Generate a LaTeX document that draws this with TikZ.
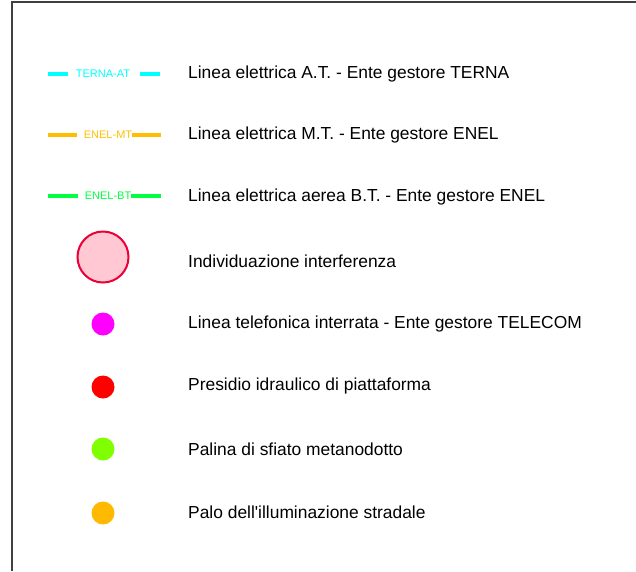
\documentclass[tikz,border=0pt]{standalone}
\usepackage{fontspec}
\setmainfont{Liberation Sans}
\usetikzlibrary{positioning}

\definecolor{terna}{HTML}{00FFFF}
\definecolor{enelmt}{HTML}{FFBF00}
\definecolor{enelbt}{HTML}{00FF40}
\definecolor{pinkfill}{HTML}{FFC8D3}
\definecolor{pinkedge}{HTML}{EC0038}
\definecolor{telecom}{HTML}{FF00FF}
\definecolor{presidio}{HTML}{FF0000}
\definecolor{palina}{HTML}{80FF00}
\definecolor{palo}{HTML}{FFB900}

\begin{document}
\begin{tikzpicture}[x=1pt,y=-1pt,
  desc/.style = {anchor=west, inner sep=0pt, font=\fontsize{17.4}{20}\selectfont},
  tag/.style = {inner sep=0pt, font=\fontsize{11}{12}\selectfont},
  wire/.style = {line width=3.5pt},
  dot/.style = {circle, inner sep=0pt, minimum size=23pt}]
\useasboundingbox (0,0) rectangle (636,571);
\draw[line width=1.5pt, black!75] (12,571) -- (12,2) -- (636,2);

% linee
\node[tag, text=terna] (at) at (103,74) {TERNA-AT};
\coordinate (at1) at (48,74); \coordinate (at2) at (160,74);
\draw[wire, terna] (at1) -- ([xshift=-8pt]at.west);
\draw[wire, terna] ([xshift=10pt]at.east) -- (at2);

\node[tag, text=enelmt] (mt) at (108,135) {ENEL-MT};
\coordinate (mt1) at (48,135); \coordinate (mt2) at (161,135);
\draw[wire, enelmt] (mt1) -- ([xshift=-7pt]mt.west);
\draw[wire, enelmt] (mt.east) -- (mt2);

\node[tag, text=enelbt] (bt) at (108,196) {ENEL-BT};
\coordinate (bt1) at (48,196); \coordinate (bt2) at (161,196);
\draw[wire, enelbt] (bt1) -- ([xshift=-7pt]bt.west);
\draw[wire, enelbt] (bt.east) -- (bt2);

% simboli
\node[circle, draw=pinkedge, fill=pinkfill, line width=2pt, minimum size=51pt] (interf) at (103,257) {};
\node[dot, fill=telecom] (tel) at (103,324) {};
\node[dot, fill=presidio] (idr) at (103,387) {};
\node[dot, fill=palina] (sfiato) at (103,449) {};
\node[dot, fill=palo] (palo) at (103,513) {};

% descrizioni
\node[desc] (d1) at (188,74) {Linea elettrica A.T. - Ente gestore TERNA};
\node[desc] (d2) at (188,135) {Linea elettrica M.T. - Ente gestore ENEL};
\node[desc] (d3) at (188,197) {Linea elettrica aerea B.T. - Ente gestore ENEL};
\node[desc] (d4) at (188,261) {Individuazione interferenza};
\node[desc] (d5) at (188,324) {Linea telefonica interrata - Ente gestore TELECOM};
\node[desc] (d6) at (188,386) {Presidio idraulico di piattaforma};
\node[desc] (d7) at (188,449) {Palina di sfiato metanodotto};
\node[desc] (d8) at (188,512) {Palo dell\textquotesingle illuminazione stradale};
\end{tikzpicture}
\end{document}
